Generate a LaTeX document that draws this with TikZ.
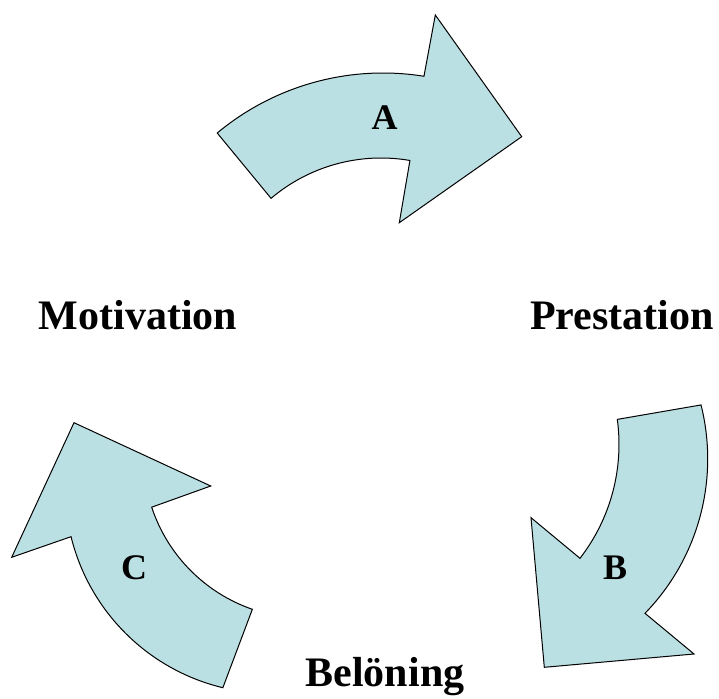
\documentclass[tikz,border=0pt]{standalone}
\usepackage{fontspec}
\setmainfont{Liberation Serif}
\definecolor{arrowfill}{RGB}{187,224,227}
\begin{document}
\begin{tikzpicture}[x=1pt,y=1pt,
  cyclearrow/.style={fill=arrowfill, draw=black, line width=1pt, line join=miter},
  stage/.style={font=\fontsize{42}{48}\selectfont\bfseries, anchor=base, inner sep=0pt},
  tag/.style={font=\fontsize{36}{42}\selectfont\bfseries, anchor=base, inner sep=0pt}]
\useasboundingbox (0,0) rectangle (719,698);

% Arrow A: Motivation -> Prestation
\draw[cyclearrow]
  ([shift={(383,366)}]129.8:259) arc[start angle=129.8, end angle=80.9, radius=259]
  -- (435.3,683) -- (521.7,561.3) -- (399.3,475.3)
  -- ([shift={(381,370)}]80.2:170) arc[start angle=80.2, end angle=130.3, radius=170]
  -- cycle;

% Arrow B: Prestation -> Beloning
\draw[cyclearrow]
  ([shift={(486.2,239.1)}]14.1:221.5) arc[start angle=14.1, end angle=-44.2, radius=221.5]
  -- (694,44) -- (544.3,30.7) -- (531,180.3)
  -- ([shift={(433,253.7)}]-37.8:186) arc[start angle=-37.8, end angle=7.7, radius=186]
  -- cycle;

% Arrow C: Beloning -> Motivation
\draw[cyclearrow]
  ([shift={(270.9,210.4)}]-103.5:205.8) arc[start angle=-103.5, end angle=-166.2, radius=205.8]
  -- (11.7,140.7) -- (74,275.3) -- (210.7,212)
  -- ([shift={(305.3,241.6)}]-161.7:161.8) arc[start angle=-161.7, end angle=-109.1, radius=161.8]
  -- cycle;

% arrow letters
\node[tag] (la) at (384.7,568) {A};
\node[tag] (lb) at (615,118.7) {B};
\node[tag] (lc) at (134,118) {C};

% stage labels
\node[stage] (motivation) at (138,368.7) {Motivation};
\node[stage] (prestation) at (622,368.7) {Prestation};
\node[stage] (beloning) at (385,11.3) {Belöning};
\end{tikzpicture}
\end{document}
